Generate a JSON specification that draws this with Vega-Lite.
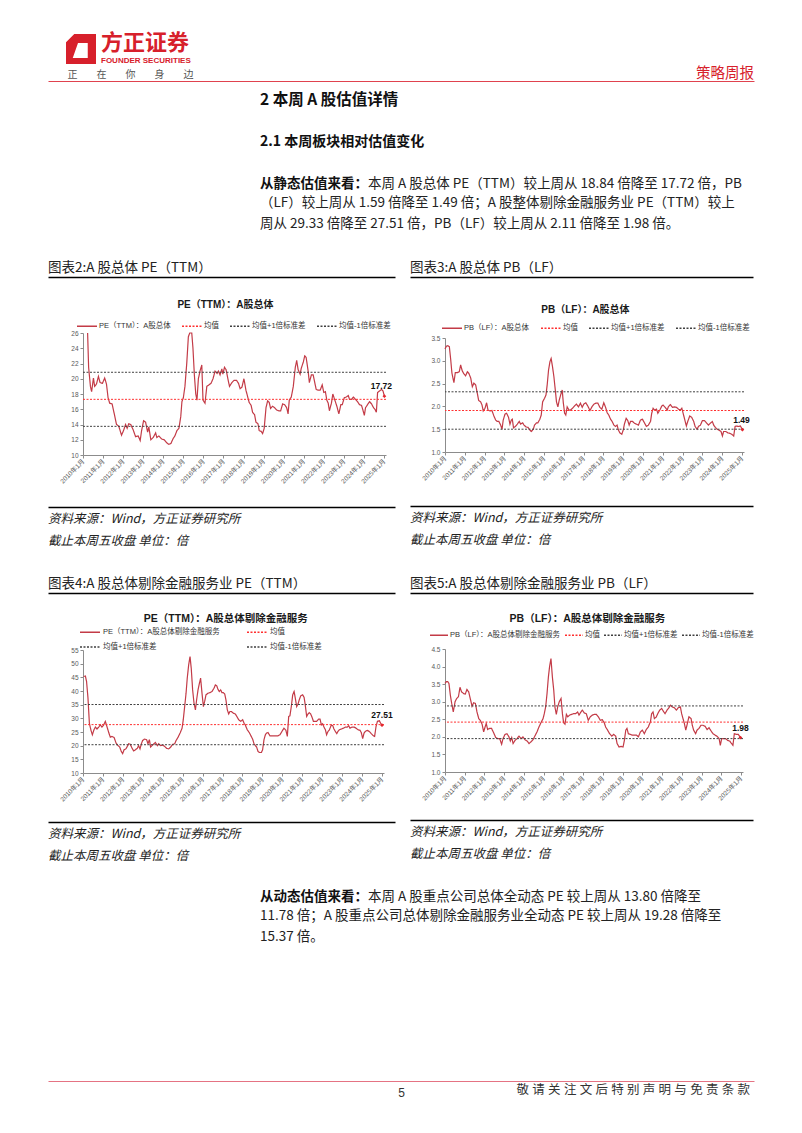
{
"$schema": "https://vega.github.io/schema/vega-lite/v6.json",
"background": "white",
"padding": {"top": 32, "left": 48, "right": 48, "bottom": 29},
"config": {
  "font": "Noto Sans CJK SC",
  "view": {"stroke": null},
  "title": {"fontWeight": "normal", "offset": 0, "color": "#1a1a1a", "subtitleColor": "#1a1a1a", "subtitleFont": "Noto Sans CJK SC", "font": "Noto Sans CJK SC"},
  "axis": {"grid": false, "labelFont": "Liberation Sans, Noto Sans CJK SC", "labelFontSize": 6.5, "labelColor": "#595959", "domainColor": "#8c8c8c", "tickColor": "#8c8c8c", "tickSize": 3, "labelPadding": 2, "titleFont": "Noto Sans CJK SC", "labelOverlap": false, "labelFlush": false, "labelBound": false},
  "legend": {"labelFont": "Liberation Sans, Noto Sans CJK SC"}
},
"datasets": {
  "pe": [{"x":2010.23,"v":26},{"x":2010.28,"v":21.5},{"x":2010.37,"v":19},{"x":2010.43,"v":18.3},{"x":2010.52,"v":20.1},{"x":2010.58,"v":19},{"x":2010.67,"v":19.3},{"x":2010.77,"v":20.3},{"x":2010.85,"v":19.5},{"x":2010.97,"v":19.4},{"x":2011.08,"v":20.1},{"x":2011.17,"v":19.3},{"x":2011.25,"v":17.5},{"x":2011.33,"v":16.8},{"x":2011.45,"v":16.7},{"x":2011.55,"v":15.5},{"x":2011.67,"v":14},{"x":2011.78,"v":13.8},{"x":2011.92,"v":12.6},{"x":2012.02,"v":13.2},{"x":2012.12,"v":14},{"x":2012.2,"v":13.5},{"x":2012.28,"v":14.1},{"x":2012.38,"v":14},{"x":2012.5,"v":13.3},{"x":2012.62,"v":12.4},{"x":2012.75,"v":12.5},{"x":2012.85,"v":11.9},{"x":2012.92,"v":13.2},{"x":2013.02,"v":14.5},{"x":2013.12,"v":14.3},{"x":2013.22,"v":13},{"x":2013.28,"v":13.7},{"x":2013.38,"v":12},{"x":2013.5,"v":12.3},{"x":2013.62,"v":12.9},{"x":2013.68,"v":12.3},{"x":2013.78,"v":12.5},{"x":2013.92,"v":12.1},{"x":2014.05,"v":12},{"x":2014.17,"v":11.6},{"x":2014.28,"v":11.4},{"x":2014.38,"v":11.5},{"x":2014.5,"v":12.2},{"x":2014.58,"v":12.5},{"x":2014.68,"v":13.2},{"x":2014.78,"v":13.5},{"x":2014.87,"v":15},{"x":2014.93,"v":17},{"x":2015.0,"v":17.5},{"x":2015.08,"v":19},{"x":2015.17,"v":22},{"x":2015.25,"v":25.5},{"x":2015.32,"v":26},{"x":2015.42,"v":26},{"x":2015.48,"v":24},{"x":2015.55,"v":20.5},{"x":2015.62,"v":18},{"x":2015.68,"v":17.2},{"x":2015.75,"v":20},{"x":2015.83,"v":21},{"x":2015.92,"v":21.8},{"x":2015.98,"v":17.2},{"x":2016.08,"v":16.8},{"x":2016.17,"v":19},{"x":2016.28,"v":19.2},{"x":2016.38,"v":19.4},{"x":2016.48,"v":20},{"x":2016.58,"v":21},{"x":2016.68,"v":20.7},{"x":2016.75,"v":21},{"x":2016.83,"v":20.5},{"x":2016.92,"v":21.3},{"x":2016.97,"v":20.6},{"x":2017.05,"v":21.5},{"x":2017.13,"v":21.2},{"x":2017.22,"v":20},{"x":2017.3,"v":19},{"x":2017.42,"v":19.5},{"x":2017.53,"v":19.8},{"x":2017.65,"v":19.8},{"x":2017.75,"v":19.4},{"x":2017.83,"v":18.7},{"x":2017.92,"v":18.9},{"x":2018.02,"v":20},{"x":2018.12,"v":18.5},{"x":2018.22,"v":17.5},{"x":2018.28,"v":16.9},{"x":2018.38,"v":16.5},{"x":2018.45,"v":15.6},{"x":2018.55,"v":15.3},{"x":2018.62,"v":14.3},{"x":2018.72,"v":14.1},{"x":2018.78,"v":13.2},{"x":2018.88,"v":13.1},{"x":2018.95,"v":12.8},{"x":2019.03,"v":13.5},{"x":2019.12,"v":16.2},{"x":2019.2,"v":17.1},{"x":2019.28,"v":16.9},{"x":2019.35,"v":16.1},{"x":2019.45,"v":16.4},{"x":2019.55,"v":16.2},{"x":2019.65,"v":15.9},{"x":2019.75,"v":15.8},{"x":2019.85,"v":15.8},{"x":2019.95,"v":16.7},{"x":2020.05,"v":16.6},{"x":2020.15,"v":16.2},{"x":2020.22,"v":15.4},{"x":2020.28,"v":17.2},{"x":2020.38,"v":17.6},{"x":2020.48,"v":19},{"x":2020.58,"v":21.5},{"x":2020.65,"v":22.4},{"x":2020.72,"v":21.2},{"x":2020.82,"v":20.6},{"x":2020.88,"v":21.4},{"x":2020.98,"v":22.2},{"x":2021.05,"v":23},{"x":2021.12,"v":22.8},{"x":2021.22,"v":21},{"x":2021.28,"v":19.5},{"x":2021.38,"v":20.5},{"x":2021.47,"v":20.5},{"x":2021.55,"v":19.5},{"x":2021.62,"v":18.6},{"x":2021.72,"v":18.5},{"x":2021.82,"v":18.5},{"x":2021.92,"v":19.2},{"x":2022.0,"v":18.2},{"x":2022.08,"v":18.3},{"x":2022.15,"v":17.2},{"x":2022.22,"v":16.8},{"x":2022.28,"v":15.8},{"x":2022.38,"v":16.8},{"x":2022.45,"v":18},{"x":2022.55,"v":17.2},{"x":2022.65,"v":16.4},{"x":2022.75,"v":15.4},{"x":2022.85,"v":16.6},{"x":2022.92,"v":16.6},{"x":2023.02,"v":17.5},{"x":2023.12,"v":17.6},{"x":2023.22,"v":17.8},{"x":2023.28,"v":17.3},{"x":2023.38,"v":17.3},{"x":2023.48,"v":17.6},{"x":2023.58,"v":17.3},{"x":2023.68,"v":17},{"x":2023.78,"v":16.6},{"x":2023.88,"v":16.5},{"x":2023.95,"v":15.9},{"x":2024.02,"v":15.2},{"x":2024.08,"v":16.2},{"x":2024.18,"v":16.6},{"x":2024.28,"v":17},{"x":2024.38,"v":16.7},{"x":2024.48,"v":16.2},{"x":2024.55,"v":16},{"x":2024.62,"v":15.6},{"x":2024.68,"v":18.2},{"x":2024.78,"v":18.4},{"x":2024.88,"v":18.6},{"x":2024.95,"v":18.4},{"x":2025.02,"v":17.72}],
  "pe_ref": [{"s":"均值","v":17.3},{"s":"均值+1倍标准差","v":20.85},{"s":"均值-1倍标准差","v":13.76}],
  "pe_end": [{"x":2025.02,"v":17.72}],
  "pb": [{"x":2010.0,"v":3.26},{"x":2010.07,"v":3.32},{"x":2010.15,"v":3.33},{"x":2010.22,"v":3.31},{"x":2010.29,"v":3.02},{"x":2010.35,"v":2.73},{"x":2010.45,"v":2.52},{"x":2010.52,"v":2.74},{"x":2010.62,"v":2.74},{"x":2010.72,"v":2.76},{"x":2010.79,"v":2.91},{"x":2010.87,"v":2.78},{"x":2010.96,"v":2.71},{"x":2011.04,"v":2.67},{"x":2011.13,"v":2.76},{"x":2011.21,"v":2.72},{"x":2011.3,"v":2.62},{"x":2011.38,"v":2.43},{"x":2011.46,"v":2.51},{"x":2011.55,"v":2.47},{"x":2011.63,"v":2.29},{"x":2011.7,"v":2.13},{"x":2011.8,"v":2.1},{"x":2011.87,"v":2.03},{"x":2011.93,"v":1.9},{"x":2012.02,"v":1.96},{"x":2012.1,"v":2.08},{"x":2012.17,"v":1.92},{"x":2012.27,"v":1.9},{"x":2012.37,"v":1.91},{"x":2012.47,"v":1.79},{"x":2012.56,"v":1.7},{"x":2012.64,"v":1.67},{"x":2012.72,"v":1.67},{"x":2012.81,"v":1.59},{"x":2012.88,"v":1.5},{"x":2012.94,"v":1.7},{"x":2013.03,"v":1.83},{"x":2013.11,"v":1.85},{"x":2013.21,"v":1.76},{"x":2013.28,"v":1.61},{"x":2013.35,"v":1.7},{"x":2013.4,"v":1.72},{"x":2013.46,"v":1.53},{"x":2013.55,"v":1.56},{"x":2013.65,"v":1.61},{"x":2013.75,"v":1.67},{"x":2013.82,"v":1.61},{"x":2013.92,"v":1.64},{"x":2013.99,"v":1.59},{"x":2014.09,"v":1.55},{"x":2014.19,"v":1.54},{"x":2014.29,"v":1.48},{"x":2014.36,"v":1.45},{"x":2014.46,"v":1.5},{"x":2014.52,"v":1.59},{"x":2014.62,"v":1.64},{"x":2014.69,"v":1.64},{"x":2014.79,"v":1.72},{"x":2014.86,"v":1.81},{"x":2014.93,"v":2.1},{"x":2015.03,"v":2.18},{"x":2015.1,"v":2.25},{"x":2015.16,"v":2.47},{"x":2015.23,"v":2.8},{"x":2015.3,"v":2.98},{"x":2015.36,"v":3.05},{"x":2015.43,"v":2.87},{"x":2015.5,"v":2.65},{"x":2015.57,"v":2.36},{"x":2015.63,"v":2.1},{"x":2015.7,"v":1.99},{"x":2015.77,"v":2.14},{"x":2015.84,"v":2.25},{"x":2015.92,"v":2.36},{"x":2015.97,"v":2.1},{"x":2016.04,"v":1.85},{"x":2016.1,"v":1.81},{"x":2016.17,"v":1.99},{"x":2016.26,"v":1.92},{"x":2016.34,"v":1.92},{"x":2016.44,"v":1.96},{"x":2016.54,"v":2.01},{"x":2016.64,"v":2.05},{"x":2016.74,"v":1.99},{"x":2016.84,"v":2.07},{"x":2016.93,"v":1.98},{"x":2017.01,"v":2.05},{"x":2017.11,"v":2.08},{"x":2017.21,"v":2.01},{"x":2017.32,"v":1.91},{"x":2017.42,"v":1.99},{"x":2017.52,"v":2.05},{"x":2017.62,"v":2.07},{"x":2017.72,"v":2.07},{"x":2017.82,"v":1.98},{"x":2017.92,"v":1.94},{"x":2018.02,"v":2.08},{"x":2018.11,"v":1.98},{"x":2018.19,"v":1.86},{"x":2018.27,"v":1.81},{"x":2018.36,"v":1.72},{"x":2018.44,"v":1.67},{"x":2018.53,"v":1.59},{"x":2018.61,"v":1.56},{"x":2018.69,"v":1.59},{"x":2018.76,"v":1.48},{"x":2018.83,"v":1.42},{"x":2018.93,"v":1.39},{"x":2019.0,"v":1.48},{"x":2019.06,"v":1.61},{"x":2019.15,"v":1.74},{"x":2019.23,"v":1.69},{"x":2019.3,"v":1.59},{"x":2019.37,"v":1.67},{"x":2019.47,"v":1.67},{"x":2019.57,"v":1.63},{"x":2019.67,"v":1.61},{"x":2019.77,"v":1.59},{"x":2019.87,"v":1.7},{"x":2019.97,"v":1.72},{"x":2020.07,"v":1.64},{"x":2020.17,"v":1.56},{"x":2020.27,"v":1.59},{"x":2020.38,"v":1.67},{"x":2020.44,"v":1.85},{"x":2020.51,"v":1.96},{"x":2020.58,"v":1.92},{"x":2020.68,"v":1.94},{"x":2020.75,"v":1.85},{"x":2020.85,"v":1.92},{"x":2020.95,"v":2.01},{"x":2021.01,"v":2.03},{"x":2021.12,"v":1.98},{"x":2021.22,"v":1.92},{"x":2021.28,"v":1.99},{"x":2021.38,"v":2.04},{"x":2021.49,"v":1.98},{"x":2021.59,"v":1.99},{"x":2021.69,"v":1.98},{"x":2021.79,"v":1.94},{"x":2021.89,"v":1.92},{"x":2021.96,"v":1.96},{"x":2022.02,"v":1.86},{"x":2022.09,"v":1.74},{"x":2022.19,"v":1.57},{"x":2022.26,"v":1.67},{"x":2022.36,"v":1.79},{"x":2022.46,"v":1.76},{"x":2022.56,"v":1.67},{"x":2022.63,"v":1.56},{"x":2022.73,"v":1.5},{"x":2022.8,"v":1.56},{"x":2022.9,"v":1.59},{"x":2023.0,"v":1.69},{"x":2023.1,"v":1.69},{"x":2023.2,"v":1.64},{"x":2023.3,"v":1.59},{"x":2023.4,"v":1.63},{"x":2023.5,"v":1.67},{"x":2023.57,"v":1.59},{"x":2023.65,"v":1.54},{"x":2023.74,"v":1.5},{"x":2023.84,"v":1.48},{"x":2023.94,"v":1.45},{"x":2024.01,"v":1.35},{"x":2024.07,"v":1.45},{"x":2024.18,"v":1.45},{"x":2024.28,"v":1.42},{"x":2024.38,"v":1.41},{"x":2024.48,"v":1.39},{"x":2024.58,"v":1.35},{"x":2024.65,"v":1.56},{"x":2024.71,"v":1.57},{"x":2024.81,"v":1.56},{"x":2024.92,"v":1.57},{"x":2025.02,"v":1.49}],
  "pb_ref": [{"s":"均值","v":1.91},{"s":"均值+1倍标准差","v":2.32},{"s":"均值-1倍标准差","v":1.5}],
  "pb_end": [{"x":2025.02,"v":1.49}],
  "pex": [{"x":2010.03,"v":45.3},{"x":2010.12,"v":45.5},{"x":2010.18,"v":43.4},{"x":2010.25,"v":37.4},{"x":2010.32,"v":28.2},{"x":2010.4,"v":25.6},{"x":2010.47,"v":24},{"x":2010.55,"v":25.8},{"x":2010.62,"v":26.8},{"x":2010.7,"v":26.1},{"x":2010.79,"v":26.8},{"x":2010.87,"v":27.6},{"x":2010.95,"v":26.8},{"x":2011.04,"v":27.6},{"x":2011.12,"v":28.9},{"x":2011.2,"v":27},{"x":2011.29,"v":24.8},{"x":2011.37,"v":23.1},{"x":2011.45,"v":23.4},{"x":2011.56,"v":23},{"x":2011.66,"v":20.9},{"x":2011.76,"v":20},{"x":2011.84,"v":19.5},{"x":2011.92,"v":17.9},{"x":2011.99,"v":17.1},{"x":2012.06,"v":18.5},{"x":2012.16,"v":18.9},{"x":2012.22,"v":19.7},{"x":2012.29,"v":20.7},{"x":2012.37,"v":20.5},{"x":2012.46,"v":19.1},{"x":2012.54,"v":18.1},{"x":2012.63,"v":18.5},{"x":2012.73,"v":19.1},{"x":2012.79,"v":20},{"x":2012.86,"v":18.8},{"x":2012.93,"v":20.7},{"x":2012.99,"v":21.9},{"x":2013.09,"v":22.4},{"x":2013.19,"v":22.2},{"x":2013.26,"v":20.7},{"x":2013.33,"v":22.2},{"x":2013.39,"v":19.5},{"x":2013.46,"v":20},{"x":2013.56,"v":20.7},{"x":2013.63,"v":21.2},{"x":2013.73,"v":20},{"x":2013.8,"v":20.7},{"x":2013.9,"v":20},{"x":2014.0,"v":20.2},{"x":2014.1,"v":19.7},{"x":2014.2,"v":19},{"x":2014.3,"v":18.8},{"x":2014.4,"v":19.5},{"x":2014.5,"v":20.5},{"x":2014.6,"v":20.7},{"x":2014.67,"v":21.9},{"x":2014.77,"v":23.1},{"x":2014.87,"v":24.6},{"x":2014.97,"v":26.4},{"x":2015.03,"v":29.5},{"x":2015.1,"v":34.3},{"x":2015.17,"v":39.2},{"x":2015.23,"v":44.7},{"x":2015.3,"v":49.5},{"x":2015.37,"v":52.6},{"x":2015.43,"v":48.3},{"x":2015.5,"v":40.4},{"x":2015.57,"v":35.5},{"x":2015.64,"v":33.1},{"x":2015.7,"v":36.8},{"x":2015.77,"v":40.4},{"x":2015.84,"v":42.8},{"x":2015.9,"v":44.7},{"x":2015.97,"v":39.2},{"x":2016.04,"v":34.3},{"x":2016.1,"v":36.1},{"x":2016.17,"v":38.6},{"x":2016.27,"v":39.2},{"x":2016.37,"v":39.4},{"x":2016.47,"v":39.8},{"x":2016.57,"v":41},{"x":2016.64,"v":42.2},{"x":2016.71,"v":41.9},{"x":2016.77,"v":40.6},{"x":2016.84,"v":39.8},{"x":2016.91,"v":40.4},{"x":2016.97,"v":39.4},{"x":2017.04,"v":39.4},{"x":2017.11,"v":38.9},{"x":2017.17,"v":36.8},{"x":2017.24,"v":33.1},{"x":2017.31,"v":31.6},{"x":2017.37,"v":32.5},{"x":2017.44,"v":32.5},{"x":2017.54,"v":31.9},{"x":2017.64,"v":31.6},{"x":2017.74,"v":30.4},{"x":2017.81,"v":29.5},{"x":2017.91,"v":28.9},{"x":2018.01,"v":29.5},{"x":2018.08,"v":28.2},{"x":2018.14,"v":27.6},{"x":2018.24,"v":25.8},{"x":2018.34,"v":24.8},{"x":2018.44,"v":23.4},{"x":2018.51,"v":22.4},{"x":2018.58,"v":20.7},{"x":2018.65,"v":20},{"x":2018.71,"v":19.5},{"x":2018.78,"v":17.9},{"x":2018.85,"v":17.5},{"x":2018.95,"v":17.5},{"x":2019.01,"v":18.5},{"x":2019.08,"v":22.2},{"x":2019.15,"v":24},{"x":2019.21,"v":24.6},{"x":2019.28,"v":24.8},{"x":2019.38,"v":23.6},{"x":2019.48,"v":23.6},{"x":2019.58,"v":23.6},{"x":2019.68,"v":23.6},{"x":2019.78,"v":23.6},{"x":2019.88,"v":24},{"x":2019.98,"v":25.2},{"x":2020.08,"v":26.4},{"x":2020.18,"v":25.6},{"x":2020.25,"v":23.4},{"x":2020.32,"v":30.7},{"x":2020.38,"v":30.9},{"x":2020.45,"v":34.3},{"x":2020.52,"v":38.6},{"x":2020.59,"v":39.8},{"x":2020.65,"v":37.4},{"x":2020.72,"v":34.3},{"x":2020.79,"v":35.3},{"x":2020.85,"v":36.8},{"x":2020.92,"v":38.2},{"x":2021.02,"v":38.6},{"x":2021.09,"v":37.7},{"x":2021.15,"v":34.9},{"x":2021.22,"v":30.7},{"x":2021.29,"v":31.6},{"x":2021.35,"v":32.1},{"x":2021.42,"v":31.6},{"x":2021.49,"v":30.4},{"x":2021.56,"v":28.9},{"x":2021.62,"v":28.9},{"x":2021.72,"v":28.9},{"x":2021.82,"v":29.7},{"x":2021.89,"v":29.7},{"x":2021.96,"v":27.6},{"x":2022.02,"v":28},{"x":2022.09,"v":26.8},{"x":2022.16,"v":25.8},{"x":2022.22,"v":24},{"x":2022.29,"v":25.2},{"x":2022.36,"v":25.8},{"x":2022.46,"v":27.6},{"x":2022.53,"v":27.3},{"x":2022.59,"v":26.1},{"x":2022.66,"v":25.2},{"x":2022.73,"v":24.4},{"x":2022.79,"v":25.2},{"x":2022.86,"v":25.8},{"x":2022.96,"v":26.1},{"x":2023.06,"v":26.4},{"x":2023.16,"v":26.8},{"x":2023.26,"v":26.8},{"x":2023.33,"v":27.3},{"x":2023.39,"v":26.4},{"x":2023.49,"v":26.8},{"x":2023.6,"v":26.8},{"x":2023.7,"v":26.4},{"x":2023.8,"v":25.8},{"x":2023.9,"v":25.6},{"x":2023.96,"v":24.8},{"x":2024.03,"v":22.6},{"x":2024.1,"v":24.6},{"x":2024.16,"v":25.2},{"x":2024.26,"v":25.6},{"x":2024.36,"v":25.2},{"x":2024.46,"v":24.4},{"x":2024.57,"v":23.6},{"x":2024.63,"v":23.4},{"x":2024.7,"v":27},{"x":2024.77,"v":28.9},{"x":2024.87,"v":29.1},{"x":2024.93,"v":28.2},{"x":2025.0,"v":27.51}],
  "pex_ref": [{"s":"均值","v":27.7},{"s":"均值+1倍标准差","v":35.05},{"s":"均值-1倍标准差","v":20.35}],
  "pex_end": [{"x":2025.0,"v":27.51}],
  "pbx": [{"x":2010.0,"v":3.52},{"x":2010.07,"v":3.57},{"x":2010.14,"v":3.57},{"x":2010.2,"v":3.52},{"x":2010.27,"v":3.19},{"x":2010.34,"v":2.95},{"x":2010.42,"v":2.71},{"x":2010.51,"v":3},{"x":2010.59,"v":3.09},{"x":2010.68,"v":3.14},{"x":2010.76,"v":3.41},{"x":2010.84,"v":3.28},{"x":2010.95,"v":3.23},{"x":2011.03,"v":3.22},{"x":2011.11,"v":3.35},{"x":2011.2,"v":3.28},{"x":2011.28,"v":3.09},{"x":2011.37,"v":2.87},{"x":2011.45,"v":2.97},{"x":2011.54,"v":2.95},{"x":2011.62,"v":2.71},{"x":2011.71,"v":2.52},{"x":2011.79,"v":2.47},{"x":2011.88,"v":2.36},{"x":2011.96,"v":2.14},{"x":2012.03,"v":2.28},{"x":2012.09,"v":2.38},{"x":2012.16,"v":2.21},{"x":2012.26,"v":2.24},{"x":2012.36,"v":2.24},{"x":2012.47,"v":2.11},{"x":2012.57,"v":1.98},{"x":2012.67,"v":1.95},{"x":2012.77,"v":1.95},{"x":2012.87,"v":1.79},{"x":2012.94,"v":1.95},{"x":2013.04,"v":2.07},{"x":2013.14,"v":2.09},{"x":2013.24,"v":2},{"x":2013.31,"v":1.88},{"x":2013.38,"v":1.98},{"x":2013.45,"v":1.81},{"x":2013.55,"v":1.9},{"x":2013.65,"v":1.95},{"x":2013.75,"v":2.02},{"x":2013.85,"v":1.95},{"x":2013.95,"v":2},{"x":2014.05,"v":1.92},{"x":2014.16,"v":1.88},{"x":2014.26,"v":1.81},{"x":2014.36,"v":1.86},{"x":2014.46,"v":1.92},{"x":2014.56,"v":2.03},{"x":2014.66,"v":2.14},{"x":2014.76,"v":2.28},{"x":2014.86,"v":2.4},{"x":2014.97,"v":2.52},{"x":2015.03,"v":2.66},{"x":2015.1,"v":2.85},{"x":2015.17,"v":3.23},{"x":2015.24,"v":3.71},{"x":2015.3,"v":4},{"x":2015.37,"v":4.23},{"x":2015.44,"v":3.71},{"x":2015.51,"v":3.33},{"x":2015.57,"v":2.85},{"x":2015.64,"v":2.64},{"x":2015.71,"v":2.85},{"x":2015.79,"v":3},{"x":2015.88,"v":3.09},{"x":2015.95,"v":2.66},{"x":2016.01,"v":2.4},{"x":2016.08,"v":2.36},{"x":2016.15,"v":2.64},{"x":2016.22,"v":2.57},{"x":2016.32,"v":2.62},{"x":2016.42,"v":2.64},{"x":2016.52,"v":2.66},{"x":2016.62,"v":2.66},{"x":2016.72,"v":2.71},{"x":2016.79,"v":2.62},{"x":2016.89,"v":2.71},{"x":2016.96,"v":2.76},{"x":2017.06,"v":2.68},{"x":2017.16,"v":2.66},{"x":2017.26,"v":2.47},{"x":2017.36,"v":2.57},{"x":2017.47,"v":2.62},{"x":2017.57,"v":2.64},{"x":2017.67,"v":2.64},{"x":2017.77,"v":2.57},{"x":2017.87,"v":2.47},{"x":2017.97,"v":2.49},{"x":2018.07,"v":2.4},{"x":2018.14,"v":2.28},{"x":2018.24,"v":2.19},{"x":2018.34,"v":2.09},{"x":2018.45,"v":2.02},{"x":2018.55,"v":2.07},{"x":2018.65,"v":2.02},{"x":2018.72,"v":1.81},{"x":2018.82,"v":1.71},{"x":2018.92,"v":1.73},{"x":2019.02,"v":1.71},{"x":2019.09,"v":1.9},{"x":2019.16,"v":2.19},{"x":2019.22,"v":2.24},{"x":2019.29,"v":2.09},{"x":2019.39,"v":2.07},{"x":2019.49,"v":2.05},{"x":2019.59,"v":2.05},{"x":2019.7,"v":2.05},{"x":2019.8,"v":2},{"x":2019.9,"v":2.14},{"x":2020.0,"v":2.19},{"x":2020.1,"v":2.09},{"x":2020.2,"v":2.21},{"x":2020.3,"v":2.28},{"x":2020.41,"v":2.43},{"x":2020.47,"v":2.66},{"x":2020.54,"v":2.71},{"x":2020.61,"v":2.52},{"x":2020.71,"v":2.57},{"x":2020.78,"v":2.66},{"x":2020.88,"v":2.76},{"x":2020.98,"v":2.81},{"x":2021.05,"v":2.74},{"x":2021.15,"v":2.66},{"x":2021.25,"v":2.76},{"x":2021.35,"v":2.83},{"x":2021.42,"v":2.9},{"x":2021.52,"v":2.85},{"x":2021.62,"v":2.83},{"x":2021.72,"v":2.76},{"x":2021.82,"v":2.83},{"x":2021.93,"v":2.85},{"x":2021.99,"v":2.66},{"x":2022.06,"v":2.52},{"x":2022.13,"v":2.38},{"x":2022.2,"v":2.19},{"x":2022.26,"v":2.33},{"x":2022.36,"v":2.57},{"x":2022.47,"v":2.52},{"x":2022.53,"v":2.33},{"x":2022.6,"v":2.19},{"x":2022.7,"v":2.09},{"x":2022.77,"v":2.19},{"x":2022.87,"v":2.24},{"x":2022.97,"v":2.33},{"x":2023.07,"v":2.33},{"x":2023.18,"v":2.3},{"x":2023.28,"v":2.21},{"x":2023.38,"v":2.26},{"x":2023.48,"v":2.17},{"x":2023.58,"v":2.09},{"x":2023.68,"v":2.05},{"x":2023.78,"v":2.02},{"x":2023.89,"v":1.95},{"x":2023.95,"v":1.76},{"x":2024.02,"v":1.95},{"x":2024.12,"v":1.95},{"x":2024.22,"v":1.95},{"x":2024.32,"v":1.9},{"x":2024.43,"v":1.88},{"x":2024.49,"v":1.83},{"x":2024.59,"v":1.76},{"x":2024.66,"v":2.09},{"x":2024.76,"v":2.07},{"x":2024.86,"v":2.07},{"x":2024.97,"v":1.98}],
  "pbx_ref": [{"s":"均值","v":2.42},{"s":"均值+1倍标准差","v":2.88},{"s":"均值-1倍标准差","v":1.95}],
  "pbx_end": [{"x":2024.97,"v":1.98}]
},
"columns": 1, "spacing": 0, "align": "none",
"resolve": {"scale": {"color": "independent", "strokeDash": "independent"}},
"concat": [
  {"width": 66, "height": 30, "data": {"values": [{}]}, "mark": {"type": "point", "shape": "M -0.45 -1 L 1 -1 L 1 1 L -1 1 L -1 -0.45 Z M -0.2 -0.4 L -0.55 0.6 L 0.45 0.6 L 0.45 -0.4 Z", "size": 900, "filled": true, "color": "#D7202B", "opacity": 1, "strokeWidth": 0},
   "title": {"text": "方正证券", "subtitle": "FOUNDER SECURITIES", "anchor": "start", "dx": 53, "dy": 32, "fontSize": 22, "fontWeight": "bold", "color": "#D7202B", "subtitleFontSize": 8, "subtitleFontWeight": "bold", "subtitleColor": "#D7202B", "subtitleFont": "Liberation Sans Narrow, Liberation Sans", "subtitlePadding": 2, "offset": 0}},
  {"width": 706, "height": 11, "data": {"values": [{}]}, "mark": {"type": "rule", "opacity": 0},
   "encoding": {"x": {"datum": 0, "type": "quantitative", "scale": {"domain": [0, 1]}, "axis": {"orient": "top", "domainColor": "#E0424E", "domainWidth": 1, "ticks": false, "labels": false, "grid": false, "title": "正\u3000\u2002\u2009\u2009在\u3000\u2002\u2009\u2009你\u3000\u2002\u2009\u2009身\u3000\u2002\u2009\u2009边", "titleAnchor": "start", "titleX": 19, "titleFontSize": 10, "titleColor": "#555555", "titleFontWeight": "normal", "titlePadding": 2}}},
   "title": {"text": "策略周报", "anchor": "end", "fontSize": 14.5, "color": "#D7202B", "dy": 12, "offset": 0}},
  {"width": 706, "height": 27, "data": {"values": []}, "mark": "point",
   "title": {"text": "2 本周 A 股估值详情", "subtitle": "2.1 本周板块相对估值变化", "anchor": "start", "dx": 212, "fontSize": 15.5, "fontWeight": "bold", "color": "#111111", "subtitleFontSize": 14, "subtitleFontWeight": "bold", "subtitleColor": "#111111", "subtitlePadding": 27, "offset": 0}},
  {"concat": [
    {"width": 1, "height": 6, "data": {"values": []}, "mark": "point", "title": {"text": "从静态估值来看：", "anchor": "start", "dx": 212, "fontSize": 13.5, "fontWeight": "bold", "offset": 0, "color": "#111111"}},
    {"width": 1, "height": 6, "data": {"values": []}, "mark": "point", "title": {"text": "本周 A 股总体 PE（TTM）较上周从 18.84 倍降至 17.72 倍，PB", "anchor": "start", "fontSize": 13.5, "offset": 0, "color": "#222222"}}
  ], "spacing": 0, "align": "none"},
  {"width": 1, "height": 30, "data": {"values": []}, "mark": "point",
   "title": {"text": ["（LF）较上周从 1.59 倍降至 1.49 倍；A 股整体剔除金融服务业 PE（TTM）较上", "周从 29.33 倍降至 27.51 倍，PB（LF）较上周从 2.11 倍降至 1.98 倍。"], "anchor": "start", "dx": 212, "fontSize": 13.5, "lineHeight": 20.5, "offset": 0, "color": "#222222"}},
  {"concat": [
    {"columns": 1, "spacing": 0, "align": "none", "resolve": {"scale": {"color": "independent", "strokeDash": "independent"}}, "concat": [
      {"width": 347, "height": 23, "data": {"values": [{}]}, "mark": {"type": "rule", "opacity": 0},
       "encoding": {"x": {"datum": 0, "type": "quantitative", "scale": {"domain": [0, 1]}, "axis": {"orient": "top", "domainColor": "#000000", "domainWidth": 1.5, "ticks": false, "labels": false, "grid": false, "title": null}}},
       "title": {"text": "图表2:A 股总体 PE（TTM）", "anchor": "start", "fontSize": 13.5, "offset": 3, "color": "#222222"}},
      {"concat": [
        {"width": 10, "height": 1, "data": {"values": []}, "mark": "point"},
        {"width": 303, "height": 122,
         "title": {"text": "PE（TTM）：A股总体", "fontSize": 10, "fontWeight": "bold", "font": "Liberation Sans, Noto Sans CJK SC", "anchor": "middle", "frame": "bounds", "offset": 5, "color": "#1a1a1a"},
         "layer": [
          {"data": {"name": "pe"}, "mark": {"type": "line", "strokeWidth": 1.2},
           "encoding": {
            "x": {"field": "x", "type": "quantitative", "scale": {"domain": [2010, 2025.1], "nice": false, "zero": false}, "axis": {"values": [2010,2011,2012,2013,2014,2015,2016,2017,2018,2019,2020,2021,2022,2023,2024,2025], "labelExpr": "datum.value + '年1月'", "labelAngle": -45, "labelAlign": "right", "labelBaseline": "middle", "labelOverlap": false, "labelFlush": false, "labelBound": false, "title": null}},
            "y": {"field": "v", "type": "quantitative", "scale": {"domain": [10, 26], "nice": false, "zero": false}, "axis": {"values": [10,12,14,16,18,20,22,24,26], "format": "d", "labelOverlap": false, "labelFlush": false, "labelBound": false, "title": null}},
            "color": {"datum": "PE（TTM）：A股总体", "type": "nominal", "scale": {"domain": ["PE（TTM）：A股总体","均值","均值+1倍标准差","均值-1倍标准差"], "range": ["#C33B47","#FF3030","#404040","#404040"]}, "legend": {"orient": "none", "legendX": -7, "legendY": -18, "direction": "horizontal", "columns": 4, "title": null, "symbolType": "stroke", "symbolSize": 400, "symbolStrokeWidth": 1.3, "labelFontSize": 7.5, "labelColor": "#333333", "columnPadding": 8, "labelOffset": 1, "labelLimit": 300}},
            "strokeDash": {"datum": "PE（TTM）：A股总体", "type": "nominal", "scale": {"domain": ["PE（TTM）：A股总体","均值","均值+1倍标准差","均值-1倍标准差"], "range": [[1,0],[2,1.5],[2,1.5],[2,1.5]]}, "legend": {"orient": "none", "legendX": -7, "legendY": -18, "direction": "horizontal", "columns": 4, "title": null, "symbolType": "stroke", "symbolSize": 400, "symbolStrokeWidth": 1.3, "labelFontSize": 7.5, "labelColor": "#333333", "columnPadding": 8, "labelOffset": 1, "labelLimit": 300}}
           }},
          {"data": {"name": "pe_ref"}, "mark": {"type": "rule", "strokeWidth": 1},
           "encoding": {"y": {"field": "v", "type": "quantitative", "axis": {"values": [10,12,14,16,18,20,22,24,26], "format": "d", "labelOverlap": false, "labelFlush": false, "labelBound": false, "title": null}}, "color": {"field": "s", "type": "nominal", "legend": null}, "strokeDash": {"field": "s", "type": "nominal", "legend": null}}},
          {"data": {"name": "pe_end"}, "mark": {"type": "point", "shape": "diamond", "filled": true, "size": 14, "color": "#E3262E", "opacity": 1}, "encoding": {"x": {"field": "x", "type": "quantitative", "axis": {"values": [2010,2011,2012,2013,2014,2015,2016,2017,2018,2019,2020,2021,2022,2023,2024,2025], "labelExpr": "datum.value + '年1月'", "labelAngle": -45, "labelAlign": "right", "labelBaseline": "middle", "labelOverlap": false, "labelFlush": false, "labelBound": false, "title": null}}, "y": {"field": "v", "type": "quantitative", "axis": {"values": [10,12,14,16,18,20,22,24,26], "format": "d", "labelOverlap": false, "labelFlush": false, "labelBound": false, "title": null}}}},
          {"data": {"name": "pe_end"}, "mark": {"type": "text", "fontSize": 8.5, "fontWeight": "bold", "font": "Liberation Sans", "baseline": "bottom", "align": "center", "dx": -3, "dy": -5, "color": "#111111"}, "encoding": {"x": {"field": "x", "type": "quantitative", "axis": {"values": [2010,2011,2012,2013,2014,2015,2016,2017,2018,2019,2020,2021,2022,2023,2024,2025], "labelExpr": "datum.value + '年1月'", "labelAngle": -45, "labelAlign": "right", "labelBaseline": "middle", "labelOverlap": false, "labelFlush": false, "labelBound": false, "title": null}}, "y": {"field": "v", "type": "quantitative", "axis": {"values": [10,12,14,16,18,20,22,24,26], "format": "d", "labelOverlap": false, "labelFlush": false, "labelBound": false, "title": null}}, "text": {"field": "v", "type": "quantitative", "format": ".2f"}}}
         ]}
      ], "spacing": 0, "align": "none", "resolve": {"scale": {"color": "independent", "strokeDash": "independent"}}},
      {"width": 347, "height": 22, "data": {"values": [{}]}, "mark": {"type": "rule", "opacity": 0},
       "encoding": {"x": {"datum": 0, "type": "quantitative", "scale": {"domain": [0, 1]}, "axis": {"orient": "bottom", "domainColor": "#000000", "domainWidth": 1.5, "ticks": false, "labels": false, "grid": false, "title": null}}},
       "title": {"text": ["资料来源：Wind，方正证券研究所", "截止本周五收盘 单位：倍"], "orient": "bottom", "anchor": "start", "fontSize": 12.5, "fontStyle": "italic", "lineHeight": 22, "offset": 6, "color": "#222222"}}
    ]},
    {"columns": 1, "spacing": 0, "align": "none", "resolve": {"scale": {"color": "independent", "strokeDash": "independent"}}, "concat": [
      {"width": 343, "height": 28, "data": {"values": [{}]}, "mark": {"type": "rule", "opacity": 0},
       "encoding": {"x": {"datum": 0, "type": "quantitative", "scale": {"domain": [0, 1]}, "axis": {"orient": "top", "domainColor": "#000000", "domainWidth": 1.5, "ticks": false, "labels": false, "grid": false, "title": null}}},
       "title": {"text": "图表3:A 股总体 PB（LF）", "anchor": "start", "fontSize": 13.5, "offset": 3, "color": "#222222"}},
      {"concat": [
        {"width": 10, "height": 1, "data": {"values": []}, "mark": "point"},
        {"width": 299, "height": 114,
         "title": {"text": "PB（LF）：A股总体", "fontSize": 10, "fontWeight": "bold", "font": "Liberation Sans, Noto Sans CJK SC", "anchor": "middle", "frame": "bounds", "offset": 2, "color": "#1a1a1a"},
         "layer": [
          {"data": {"name": "pb"}, "mark": {"type": "line", "strokeWidth": 1.2},
           "encoding": {
            "x": {"field": "x", "type": "quantitative", "scale": {"domain": [2010, 2025.1], "nice": false, "zero": false}, "axis": {"values": [2010,2011,2012,2013,2014,2015,2016,2017,2018,2019,2020,2021,2022,2023,2024,2025], "labelExpr": "datum.value + '年1月'", "labelAngle": -45, "labelAlign": "right", "labelBaseline": "middle", "labelOverlap": false, "labelFlush": false, "labelBound": false, "title": null}},
            "y": {"field": "v", "type": "quantitative", "scale": {"domain": [1, 3.5], "nice": false, "zero": false}, "axis": {"values": [1,1.5,2,2.5,3,3.5], "format": ".1f", "labelOverlap": false, "labelFlush": false, "labelBound": false, "title": null}},
            "color": {"datum": "PB（LF）：A股总体", "type": "nominal", "scale": {"domain": ["PB（LF）：A股总体","均值","均值+1倍标准差","均值-1倍标准差"], "range": ["#C33B47","#FF3030","#404040","#404040"]}, "legend": {"orient": "none", "legendX": -4, "legendY": -21, "direction": "horizontal", "columns": 4, "title": null, "symbolType": "stroke", "symbolSize": 400, "symbolStrokeWidth": 1.3, "labelFontSize": 7.5, "labelColor": "#333333", "columnPadding": 8, "labelOffset": 1, "labelLimit": 300}},
            "strokeDash": {"datum": "PB（LF）：A股总体", "type": "nominal", "scale": {"domain": ["PB（LF）：A股总体","均值","均值+1倍标准差","均值-1倍标准差"], "range": [[1,0],[2,1.5],[2,1.5],[2,1.5]]}, "legend": {"orient": "none", "legendX": -4, "legendY": -21, "direction": "horizontal", "columns": 4, "title": null, "symbolType": "stroke", "symbolSize": 400, "symbolStrokeWidth": 1.3, "labelFontSize": 7.5, "labelColor": "#333333", "columnPadding": 8, "labelOffset": 1, "labelLimit": 300}}
           }},
          {"data": {"name": "pb_ref"}, "mark": {"type": "rule", "strokeWidth": 1},
           "encoding": {"y": {"field": "v", "type": "quantitative", "axis": {"values": [1,1.5,2,2.5,3,3.5], "format": ".1f", "labelOverlap": false, "labelFlush": false, "labelBound": false, "title": null}}, "color": {"field": "s", "type": "nominal", "legend": null}, "strokeDash": {"field": "s", "type": "nominal", "legend": null}}},
          {"data": {"name": "pb_end"}, "mark": {"type": "point", "shape": "diamond", "filled": true, "size": 14, "color": "#E3262E", "opacity": 1}, "encoding": {"x": {"field": "x", "type": "quantitative", "axis": {"values": [2010,2011,2012,2013,2014,2015,2016,2017,2018,2019,2020,2021,2022,2023,2024,2025], "labelExpr": "datum.value + '年1月'", "labelAngle": -45, "labelAlign": "right", "labelBaseline": "middle", "labelOverlap": false, "labelFlush": false, "labelBound": false, "title": null}}, "y": {"field": "v", "type": "quantitative", "axis": {"values": [1,1.5,2,2.5,3,3.5], "format": ".1f", "labelOverlap": false, "labelFlush": false, "labelBound": false, "title": null}}}},
          {"data": {"name": "pb_end"}, "mark": {"type": "text", "fontSize": 8.5, "fontWeight": "bold", "font": "Liberation Sans", "baseline": "bottom", "align": "center", "dx": -1, "dy": -5, "color": "#111111"}, "encoding": {"x": {"field": "x", "type": "quantitative", "axis": {"values": [2010,2011,2012,2013,2014,2015,2016,2017,2018,2019,2020,2021,2022,2023,2024,2025], "labelExpr": "datum.value + '年1月'", "labelAngle": -45, "labelAlign": "right", "labelBaseline": "middle", "labelOverlap": false, "labelFlush": false, "labelBound": false, "title": null}}, "y": {"field": "v", "type": "quantitative", "axis": {"values": [1,1.5,2,2.5,3,3.5], "format": ".1f", "labelOverlap": false, "labelFlush": false, "labelBound": false, "title": null}}, "text": {"field": "v", "type": "quantitative", "format": ".2f"}}}
         ]}
      ], "spacing": 0, "align": "none", "resolve": {"scale": {"color": "independent", "strokeDash": "independent"}}},
      {"width": 343, "height": 24, "data": {"values": [{}]}, "mark": {"type": "rule", "opacity": 0},
       "encoding": {"x": {"datum": 0, "type": "quantitative", "scale": {"domain": [0, 1]}, "axis": {"orient": "bottom", "domainColor": "#000000", "domainWidth": 1.5, "ticks": false, "labels": false, "grid": false, "title": null}}},
       "title": {"text": ["资料来源：Wind，方正证券研究所", "截止本周五收盘 单位：倍"], "orient": "bottom", "anchor": "start", "fontSize": 12.5, "fontStyle": "italic", "lineHeight": 22, "offset": 6, "color": "#222222"}}
    ]}
  ], "spacing": 15, "align": "none", "resolve": {"scale": {"color": "independent", "strokeDash": "independent"}}},
  {"width": 1, "height": 28, "data": {"values": []}, "mark": "point"},
  {"concat": [
    {"columns": 1, "spacing": 0, "align": "none", "resolve": {"scale": {"color": "independent", "strokeDash": "independent"}}, "concat": [
      {"width": 347, "height": 20, "data": {"values": [{}]}, "mark": {"type": "rule", "opacity": 0},
       "encoding": {"x": {"datum": 0, "type": "quantitative", "scale": {"domain": [0, 1]}, "axis": {"orient": "top", "domainColor": "#000000", "domainWidth": 1.5, "ticks": false, "labels": false, "grid": false, "title": null}}},
       "title": {"text": "图表4:A 股总体剔除金融服务业 PE（TTM）", "anchor": "start", "fontSize": 13.5, "offset": 3, "color": "#222222"}},
      {"concat": [
        {"width": 10, "height": 1, "data": {"values": []}, "mark": "point"},
        {"width": 301, "height": 123,
         "title": {"text": "PE（TTM）：A股总体剔除金融服务", "fontSize": 10.5, "fontWeight": "bold", "font": "Liberation Sans, Noto Sans CJK SC", "anchor": "middle", "frame": "bounds", "offset": -3, "color": "#1a1a1a"},
         "layer": [
          {"data": {"name": "pex"}, "mark": {"type": "line", "strokeWidth": 1.2},
           "encoding": {
            "x": {"field": "x", "type": "quantitative", "scale": {"domain": [2010, 2025.1], "nice": false, "zero": false}, "axis": {"values": [2010,2011,2012,2013,2014,2015,2016,2017,2018,2019,2020,2021,2022,2023,2024,2025], "labelExpr": "datum.value + '年1月'", "labelAngle": -45, "labelAlign": "right", "labelBaseline": "middle", "labelOverlap": false, "labelFlush": false, "labelBound": false, "title": null}},
            "y": {"field": "v", "type": "quantitative", "scale": {"domain": [10, 55], "nice": false, "zero": false}, "axis": {"values": [10,15,20,25,30,35,40,45,50,55], "format": "d", "labelOverlap": false, "labelFlush": false, "labelBound": false, "title": null}},
            "color": {"datum": "PE（TTM）：A股总体剔除金融服务", "type": "nominal", "scale": {"domain": ["PE（TTM）：A股总体剔除金融服务","均值","均值+1倍标准差","均值-1倍标准差"], "range": ["#C33B47","#FF3030","#404040","#404040"]}, "legend": {"orient": "none", "legendX": -4, "legendY": -29, "direction": "horizontal", "columns": 2, "title": null, "symbolType": "stroke", "symbolSize": 400, "symbolStrokeWidth": 1.3, "labelFontSize": 7.5, "labelColor": "#333333", "columnPadding": 24, "rowPadding": -7, "labelOffset": 2, "labelLimit": 300}},
            "strokeDash": {"datum": "PE（TTM）：A股总体剔除金融服务", "type": "nominal", "scale": {"domain": ["PE（TTM）：A股总体剔除金融服务","均值","均值+1倍标准差","均值-1倍标准差"], "range": [[1,0],[2,1.5],[2,1.5],[2,1.5]]}, "legend": {"orient": "none", "legendX": -4, "legendY": -29, "direction": "horizontal", "columns": 2, "title": null, "symbolType": "stroke", "symbolSize": 400, "symbolStrokeWidth": 1.3, "labelFontSize": 7.5, "labelColor": "#333333", "columnPadding": 24, "rowPadding": -7, "labelOffset": 2, "labelLimit": 300}}
           }},
          {"data": {"name": "pex_ref"}, "mark": {"type": "rule", "strokeWidth": 1},
           "encoding": {"y": {"field": "v", "type": "quantitative", "axis": {"values": [10,15,20,25,30,35,40,45,50,55], "format": "d", "labelOverlap": false, "labelFlush": false, "labelBound": false, "title": null}}, "color": {"field": "s", "type": "nominal", "legend": null}, "strokeDash": {"field": "s", "type": "nominal", "legend": null}}},
          {"data": {"name": "pex_end"}, "mark": {"type": "point", "shape": "diamond", "filled": true, "size": 14, "color": "#E3262E", "opacity": 1}, "encoding": {"x": {"field": "x", "type": "quantitative", "axis": {"values": [2010,2011,2012,2013,2014,2015,2016,2017,2018,2019,2020,2021,2022,2023,2024,2025], "labelExpr": "datum.value + '年1月'", "labelAngle": -45, "labelAlign": "right", "labelBaseline": "middle", "labelOverlap": false, "labelFlush": false, "labelBound": false, "title": null}}, "y": {"field": "v", "type": "quantitative", "axis": {"values": [10,15,20,25,30,35,40,45,50,55], "format": "d", "labelOverlap": false, "labelFlush": false, "labelBound": false, "title": null}}}},
          {"data": {"name": "pex_end"}, "mark": {"type": "text", "fontSize": 8.5, "fontWeight": "bold", "font": "Liberation Sans", "baseline": "bottom", "align": "center", "dx": 0, "dy": -5, "color": "#111111"}, "encoding": {"x": {"field": "x", "type": "quantitative", "axis": {"values": [2010,2011,2012,2013,2014,2015,2016,2017,2018,2019,2020,2021,2022,2023,2024,2025], "labelExpr": "datum.value + '年1月'", "labelAngle": -45, "labelAlign": "right", "labelBaseline": "middle", "labelOverlap": false, "labelFlush": false, "labelBound": false, "title": null}}, "y": {"field": "v", "type": "quantitative", "axis": {"values": [10,15,20,25,30,35,40,45,50,55], "format": "d", "labelOverlap": false, "labelFlush": false, "labelBound": false, "title": null}}, "text": {"field": "v", "type": "quantitative", "format": ".2f"}}}
         ]}
      ], "spacing": 0, "align": "none", "resolve": {"scale": {"color": "independent", "strokeDash": "independent"}}},
      {"width": 347, "height": 19, "data": {"values": [{}]}, "mark": {"type": "rule", "opacity": 0},
       "encoding": {"x": {"datum": 0, "type": "quantitative", "scale": {"domain": [0, 1]}, "axis": {"orient": "bottom", "domainColor": "#000000", "domainWidth": 1.5, "ticks": false, "labels": false, "grid": false, "title": null}}},
       "title": {"text": ["资料来源：Wind，方正证券研究所", "截止本周五收盘 单位：倍"], "orient": "bottom", "anchor": "start", "fontSize": 12.5, "fontStyle": "italic", "lineHeight": 22, "offset": 6, "color": "#222222"}}
    ]},
    {"columns": 1, "spacing": 0, "align": "none", "resolve": {"scale": {"color": "independent", "strokeDash": "independent"}}, "concat": [
      {"width": 343, "height": 20, "data": {"values": [{}]}, "mark": {"type": "rule", "opacity": 0},
       "encoding": {"x": {"datum": 0, "type": "quantitative", "scale": {"domain": [0, 1]}, "axis": {"orient": "top", "domainColor": "#000000", "domainWidth": 1.5, "ticks": false, "labels": false, "grid": false, "title": null}}},
       "title": {"text": "图表5:A 股总体剔除金融服务业 PB（LF）", "anchor": "start", "fontSize": 13.5, "offset": 3, "color": "#222222"}},
      {"concat": [
        {"width": 10, "height": 1, "data": {"values": []}, "mark": "point"},
        {"width": 298, "height": 123,
         "title": {"text": "PB（LF）：A股总体剔除金融服务", "fontSize": 10.5, "fontWeight": "bold", "font": "Liberation Sans, Noto Sans CJK SC", "anchor": "middle", "frame": "bounds", "offset": 1, "color": "#1a1a1a"},
         "layer": [
          {"data": {"name": "pbx"}, "mark": {"type": "line", "strokeWidth": 1.2},
           "encoding": {
            "x": {"field": "x", "type": "quantitative", "scale": {"domain": [2010, 2025.1], "nice": false, "zero": false}, "axis": {"values": [2010,2011,2012,2013,2014,2015,2016,2017,2018,2019,2020,2021,2022,2023,2024,2025], "labelExpr": "datum.value + '年1月'", "labelAngle": -45, "labelAlign": "right", "labelBaseline": "middle", "labelOverlap": false, "labelFlush": false, "labelBound": false, "title": null}},
            "y": {"field": "v", "type": "quantitative", "scale": {"domain": [1, 4.5], "nice": false, "zero": false}, "axis": {"values": [1,1.5,2,2.5,3,3.5,4,4.5], "format": ".1f", "labelOverlap": false, "labelFlush": false, "labelBound": false, "title": null}},
            "color": {"datum": "PB（LF）：A股总体剔除金融服务", "type": "nominal", "scale": {"domain": ["PB（LF）：A股总体剔除金融服务","均值","均值+1倍标准差","均值-1倍标准差"], "range": ["#C33B47","#FF3030","#404040","#404040"]}, "legend": {"orient": "none", "legendX": -16, "legendY": -24, "direction": "horizontal", "columns": 4, "title": null, "symbolType": "stroke", "symbolSize": 324, "symbolStrokeWidth": 1.3, "labelFontSize": 7.5, "labelColor": "#333333", "columnPadding": 1, "labelOffset": 1, "labelLimit": 300}},
            "strokeDash": {"datum": "PB（LF）：A股总体剔除金融服务", "type": "nominal", "scale": {"domain": ["PB（LF）：A股总体剔除金融服务","均值","均值+1倍标准差","均值-1倍标准差"], "range": [[1,0],[2,1.5],[2,1.5],[2,1.5]]}, "legend": {"orient": "none", "legendX": -16, "legendY": -24, "direction": "horizontal", "columns": 4, "title": null, "symbolType": "stroke", "symbolSize": 324, "symbolStrokeWidth": 1.3, "labelFontSize": 7.5, "labelColor": "#333333", "columnPadding": 1, "labelOffset": 1, "labelLimit": 300}}
           }},
          {"data": {"name": "pbx_ref"}, "mark": {"type": "rule", "strokeWidth": 1},
           "encoding": {"y": {"field": "v", "type": "quantitative", "axis": {"values": [1,1.5,2,2.5,3,3.5,4,4.5], "format": ".1f", "labelOverlap": false, "labelFlush": false, "labelBound": false, "title": null}}, "color": {"field": "s", "type": "nominal", "legend": null}, "strokeDash": {"field": "s", "type": "nominal", "legend": null}}},
          {"data": {"name": "pbx_end"}, "mark": {"type": "point", "shape": "diamond", "filled": true, "size": 14, "color": "#E3262E", "opacity": 1}, "encoding": {"x": {"field": "x", "type": "quantitative", "axis": {"values": [2010,2011,2012,2013,2014,2015,2016,2017,2018,2019,2020,2021,2022,2023,2024,2025], "labelExpr": "datum.value + '年1月'", "labelAngle": -45, "labelAlign": "right", "labelBaseline": "middle", "labelOverlap": false, "labelFlush": false, "labelBound": false, "title": null}}, "y": {"field": "v", "type": "quantitative", "axis": {"values": [1,1.5,2,2.5,3,3.5,4,4.5], "format": ".1f", "labelOverlap": false, "labelFlush": false, "labelBound": false, "title": null}}}},
          {"data": {"name": "pbx_end"}, "mark": {"type": "text", "fontSize": 8.5, "fontWeight": "bold", "font": "Liberation Sans", "baseline": "bottom", "align": "center", "dx": 0, "dy": -5, "color": "#111111"}, "encoding": {"x": {"field": "x", "type": "quantitative", "axis": {"values": [2010,2011,2012,2013,2014,2015,2016,2017,2018,2019,2020,2021,2022,2023,2024,2025], "labelExpr": "datum.value + '年1月'", "labelAngle": -45, "labelAlign": "right", "labelBaseline": "middle", "labelOverlap": false, "labelFlush": false, "labelBound": false, "title": null}}, "y": {"field": "v", "type": "quantitative", "axis": {"values": [1,1.5,2,2.5,3,3.5,4,4.5], "format": ".1f", "labelOverlap": false, "labelFlush": false, "labelBound": false, "title": null}}, "text": {"field": "v", "type": "quantitative", "format": ".2f"}}}
         ]}
      ], "spacing": 0, "align": "none", "resolve": {"scale": {"color": "independent", "strokeDash": "independent"}}},
      {"width": 343, "height": 18, "data": {"values": [{}]}, "mark": {"type": "rule", "opacity": 0},
       "encoding": {"x": {"datum": 0, "type": "quantitative", "scale": {"domain": [0, 1]}, "axis": {"orient": "bottom", "domainColor": "#000000", "domainWidth": 1.5, "ticks": false, "labels": false, "grid": false, "title": null}}},
       "title": {"text": ["资料来源：Wind，方正证券研究所", "截止本周五收盘 单位：倍"], "orient": "bottom", "anchor": "start", "fontSize": 12.5, "fontStyle": "italic", "lineHeight": 22, "offset": 6, "color": "#222222"}}
    ]}
  ], "spacing": 15, "align": "none", "resolve": {"scale": {"color": "independent", "strokeDash": "independent"}}},
  {"width": 1, "height": 26, "data": {"values": []}, "mark": "point"},
  {"concat": [
    {"width": 1, "height": 6, "data": {"values": []}, "mark": "point", "title": {"text": "从动态估值来看：", "anchor": "start", "dx": 212, "fontSize": 13.5, "fontWeight": "bold", "offset": 0, "color": "#111111"}},
    {"width": 1, "height": 6, "data": {"values": []}, "mark": "point", "title": {"text": "本周 A 股重点公司总体全动态 PE 较上周从 13.80 倍降至", "anchor": "start", "fontSize": 13.5, "offset": 0, "color": "#222222"}}
  ], "spacing": 0, "align": "none"},
  {"width": 1, "height": 1, "data": {"values": []}, "mark": "point",
   "title": {"text": ["11.78 倍；A 股重点公司总体剔除金融服务业全动态 PE 较上周从 19.28 倍降至", "15.37 倍。"], "anchor": "start", "dx": 212, "fontSize": 13.5, "lineHeight": 20.5, "offset": 0, "color": "#222222"}},
  {"width": 706, "height": 137, "data": {"values": [{}]}, "mark": {"type": "rule", "opacity": 0},
   "encoding": {"x": {"datum": 0, "type": "quantitative", "scale": {"domain": [0, 1]}, "axis": {"orient": "bottom", "domainColor": "#E57383", "domainWidth": 1, "ticks": false, "labels": false, "grid": false, "title": "5", "titleFontSize": 12, "titleFontWeight": "normal", "titleColor": "#333333", "titleFont": "Liberation Sans", "titlePadding": 6}}},
   "title": {"text": "敬\u2009\u200a请\u2009\u200a关\u2009\u200a注\u2009\u200a文\u2009\u200a后\u2009\u200a特\u2009\u200a别\u2009\u200a声\u2009\u200a明\u2009\u200a与\u2009\u200a免\u2009\u200a责\u2009\u200a条\u2009\u200a款", "orient": "bottom", "anchor": "end", "fontSize": 12.5, "color": "#333333", "dx": -4, "dy": -14, "offset": 0}}
]
}
